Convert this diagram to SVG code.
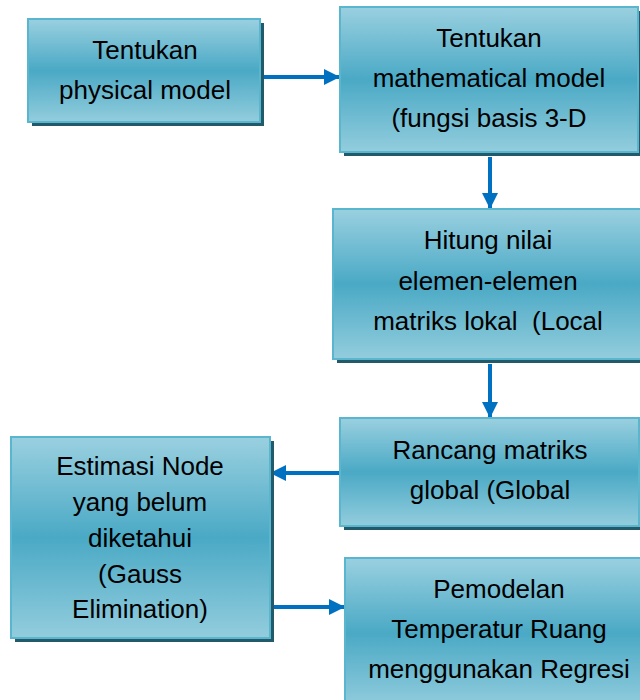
<svg xmlns="http://www.w3.org/2000/svg" width="640" height="700" viewBox="0 0 640 700">
<style>
.box{fill:url(#g);stroke:#5ab6cf;stroke-width:2}
.sh{fill:#235a69}
.t{font-family:"Liberation Sans",Arial,sans-serif;font-size:26px;fill:#000;text-anchor:middle;white-space:pre}
.c{stroke:#0070c0;stroke-width:4;fill:none;marker-end:url(#a)}
</style>
<defs>
<linearGradient id="g" x1="0" y1="0" x2="0" y2="1">
<stop offset="0" stop-color="#9ad0e0"/>
<stop offset="0.5" stop-color="#4aa9c5"/>
<stop offset="1" stop-color="#93cddd"/>
</linearGradient>
<marker id="a" markerUnits="userSpaceOnUse" markerWidth="16" markerHeight="16" viewBox="0 0 16 16" refX="16" refY="8" orient="auto">
<path d="M0,0 L16,8 L0,16 z" fill="#0070c0"/>
</marker>
</defs>
<g id="connectors">
<line class="c" x1="262" y1="77" x2="340" y2="77"/>
<line class="c" x1="490" y1="157" x2="490" y2="209"/>
<line class="c" x1="490" y1="364" x2="490" y2="418"/>
<line class="c" x1="340" y1="473" x2="270" y2="473"/>
<line class="c" x1="273" y1="607" x2="345" y2="607"/>
</g>
<g id="n1">
<rect class="sh" x="32" y="23" width="232" height="103"/>
<rect class="box" x="28" y="19" width="232" height="103"/>
<text class="t" x="145" y="59">Tentukan</text>
<text class="t" x="145" y="99">physical model</text>
</g>
<g id="n2">
<rect class="sh" x="344" y="11" width="298" height="145"/>
<rect class="box" x="340" y="7" width="298" height="145"/>
<text class="t" x="489" y="47">Tentukan</text>
<text class="t" x="489" y="87">mathematical model</text>
<text class="t" x="489" y="127">(fungsi basis 3-D</text>
</g>
<g id="n3">
<rect class="sh" x="337" y="213" width="310" height="150"/>
<rect class="box" x="333" y="209" width="310" height="150"/>
<text class="t" x="488" y="249">Hitung nilai</text>
<text class="t" x="488" y="290">elemen-elemen</text>
<text class="t" x="488" y="330">matriks lokal  (Local</text>
</g>
<g id="n4">
<rect class="sh" x="344" y="422" width="300" height="108"/>
<rect class="box" x="340" y="418" width="299" height="108"/>
<text class="t" x="490" y="459">Rancang matriks</text>
<text class="t" x="490" y="499">global (Global</text>
</g>
<g id="n5">
<rect class="sh" x="15" y="441" width="259" height="201"/>
<rect class="box" x="11" y="437" width="259" height="201"/>
<text class="t" x="140" y="475">Estimasi Node</text>
<text class="t" x="140" y="511">yang belum</text>
<text class="t" x="140" y="547">diketahui</text>
<text class="t" x="140" y="583">(Gauss</text>
<text class="t" x="140" y="618">Elimination)</text>
</g>
<g id="n6">
<rect class="sh" x="349" y="562" width="310" height="150"/>
<rect class="box" x="345" y="558" width="308" height="150"/>
<text class="t" x="499" y="598">Pemodelan</text>
<text class="t" x="499" y="638">Temperatur Ruang</text>
<text class="t" x="499" y="678">menggunakan Regresi</text>
</g>
</svg>
